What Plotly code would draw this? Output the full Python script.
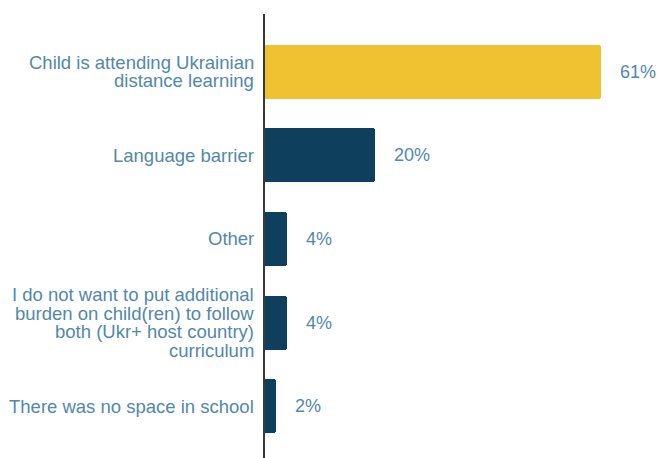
import plotly.graph_objects as go

# Reasons for not enrolling in host-country school (share of respondents, %)
categories = [
    "Child is attending Ukrainian<br>distance learning",
    "Language barrier",
    "Other",
    "I do not want to put additional<br>burden on child(ren) to follow<br>both (Ukr+ host country)<br>curriculum",
    "There was no space in school",
]
values = [61, 20, 4, 4, 2]
value_labels = ["61%", "20%", "4%", "4%", "2%"]

YELLOW = "#F0C232"
NAVY = "#0E405E"
TEXT = "#5188AB"
FONT = "Liberation Sans, Arial, Helvetica, sans-serif"
LINE_STEP = 18.5  # px between lines of a wrapped category label

ypos = list(range(len(categories)))
bar_colors = [YELLOW if i == 0 else NAVY for i in ypos]

fig = go.Figure(
    go.Bar(
        x=values,
        y=ypos,
        orientation="h",
        width=0.645,
        marker=dict(color=bar_colors, line=dict(width=0), cornerradius=3),
        hoverinfo="skip",
    )
)

annotations = []
# Category labels, right-aligned against the axis, one annotation per line
for i, label in enumerate(categories):
    lines = label.split("<br>")
    n = len(lines)
    for k, line in enumerate(lines):
        annotations.append(dict(
            x=0, xref="paper", y=i, yref="y",
            text=line, showarrow=False,
            xanchor="right", yanchor="middle", align="right",
            xshift=-9, yshift=((n - 1) / 2 - k) * LINE_STEP,
            font=dict(family=FONT, size=18.5, color=TEXT),
        ))

# Value labels just past the end of each bar
for i, (v, t) in enumerate(zip(values, value_labels)):
    annotations.append(dict(
        x=v, xref="x", y=i, yref="y",
        text=t, showarrow=False,
        xanchor="left", yanchor="middle",
        xshift=17,
        font=dict(family=FONT, size=18, color=TEXT),
    ))

fig.update_layout(
    width=659, height=458,
    margin=dict(l=265, r=9, t=14, b=0),
    paper_bgcolor="white", plot_bgcolor="white",
    showlegend=False,
    bargap=0,
    xaxis=dict(visible=False, range=[0, 70], fixedrange=True),
    yaxis=dict(
        range=[4.62, -0.69],
        showticklabels=False, ticks="",
        showgrid=False, zeroline=False,
        showline=True, linecolor="#3a3a3a", linewidth=2,
        fixedrange=True,
    ),
    annotations=annotations,
)

fig.write_html("out.html", config={"displayModeBar": False})
